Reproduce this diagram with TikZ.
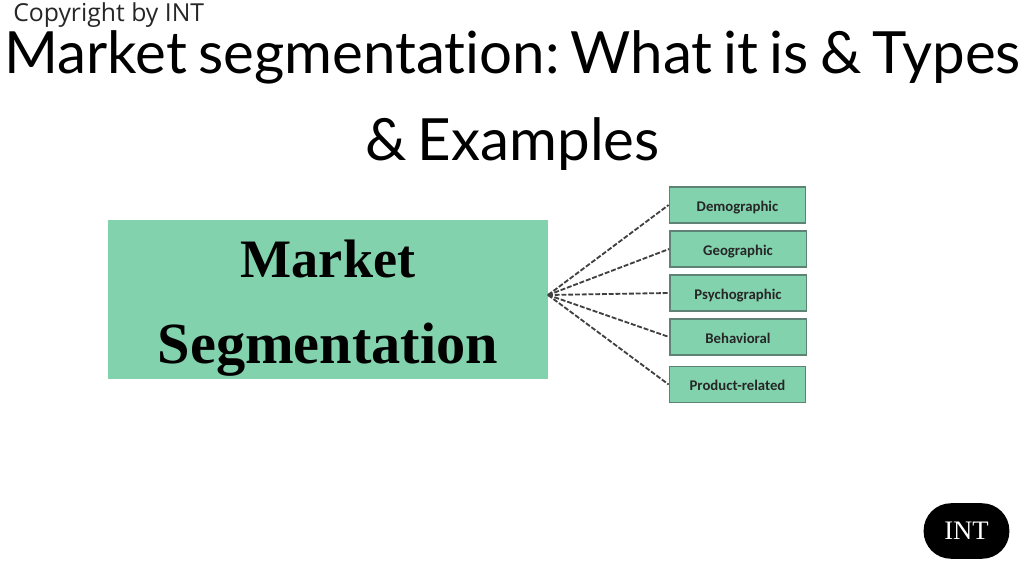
\documentclass[tikz,border=0pt]{standalone}
\usepackage{fontspec}
\setmainfont{Liberation Serif}
\newfontfamily\labelfont{Carlito}
\newfontfamily\copyfont{Open Sans}
\newfontfamily\titlefont[Ligatures=NoCommon,WordSpace=0.75]{Lato}
\frenchspacing
\tikzset{
  segbox/.style={draw=segedge, fill=seggreen, line width=1pt, minimum width=97pt, minimum height=25.5pt, inner sep=0pt, text height=9pt, text depth=0pt, font=\labelfont\bfseries\fontsize{10.5}{12}\selectfont, text=black!85},
  link/.style={dash pattern=on 3.5pt off 1.3pt, line width=1.3pt, black!75}
}
\definecolor{seggreen}{HTML}{82D2AE}
\definecolor{segedge}{HTML}{5E8273}
\begin{document}
\begin{tikzpicture}[x=0.025cm,y=-0.025cm]
        \useasboundingbox (0,0) rectangle (1024,576);

        \node [anchor=west, inner sep=0pt, font=\copyfont\fontsize{17.6}{20}\selectfont, text=black!85] (copy) at (13,15) {Copyright by INT};
        \node [inner sep=0pt, font=\titlefont\fontsize{41.4}{48}\selectfont] (title1) at (512.5,57) {Market segmentation: What it is \& Types};
        \node [inner sep=0pt, font=\titlefont\fontsize{41.4}{48}\selectfont] (title2) at (512.5,144) {\& Examples};

        \node [fill=seggreen, minimum width=313pt, minimum height=113pt, inner sep=0pt] (main) at (328,299.5) {};
        \node [font=\bfseries\fontsize{38.5}{46}\selectfont] (word1) at (328,259) {Market};
        \node [font=\bfseries\fontsize{41.5}{46}\selectfont] (word2) at (328,350) {Segmentation};

        \coordinate (hub) at (548,295);

        \node [segbox] (demo) at (737.5,205) {Demographic};
        \node [segbox] (geo) at (738,249) {Geographic};
        \node [segbox] (psycho) at (738,293) {Psychographic};
        \node [segbox] (behav) at (738,337) {Behavioral};
        \node [segbox] (product) at (737.5,384.5) {Product-related};

        \draw [link] (hub) -- (demo.west);
        \draw [link] (hub) -- (geo.west);
        \draw [link] (hub) -- (psycho.west);
        \draw [link] (hub) -- (behav.west);
        \draw [link] (hub) -- (product.west);

        \node [fill=black, text=white, rounded corners=19.5pt, minimum width=61pt, minimum height=39.5pt, inner sep=0pt, font=\fontsize{19}{22}\selectfont] (badge) at (966.5,531) {INT};
      \end{tikzpicture}
\end{document}
